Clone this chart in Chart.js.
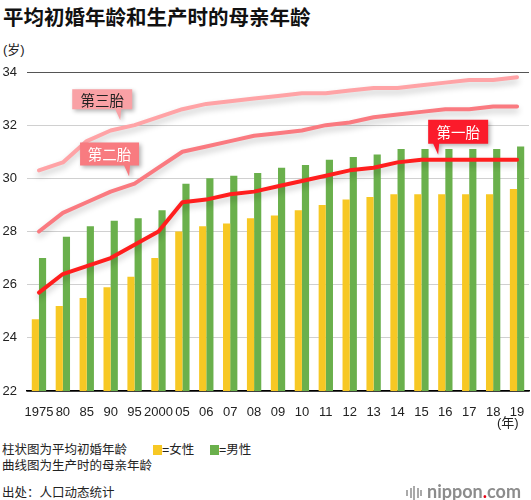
<!DOCTYPE html>
<html>
<head>
<meta charset="utf-8">
<script src="https://cdn.jsdelivr.net/npm/chart.js@4/dist/chart.umd.min.js"></script>
<style>
body{margin:0;width:531px;height:500px;background:#fff;position:relative;overflow:hidden;
  font-family:"Liberation Sans","Noto Sans CJK SC",sans-serif;color:#222;}
.abs{position:absolute;white-space:nowrap;}
#title{left:3px;top:1px;font:bold 20.5px "Noto Sans CJK SC",sans-serif;color:#111;}
#wrap{position:absolute;left:0;top:0;width:531px;height:420px;}
.sq{display:inline-block;width:9px;height:10px;vertical-align:-1px;}
#logo{right:10px;top:480px;font:bold 18px Lato,sans-serif;color:#8c8c8c;}
#logo i{display:inline-block;width:2px;background:#aaa;margin-right:1.5px;vertical-align:middle;}
</style>
</head>
<body>
<div id="title" class="abs">平均初婚年龄和生产时的母亲年龄</div>
<div class="abs" style="left:3px;top:39px;font-size:13px;">(岁)</div>
<div id="wrap"><canvas id="ageChart"></canvas></div>
<div class="abs" style="left:497px;top:412px;font-size:13px;">(年)</div>
<div class="abs" style="left:2px;top:439px;font-size:12.5px;">柱状图为平均初婚年龄</div>
<div class="abs" style="left:153px;top:439px;font-size:12.5px;"><span class="sq" style="background:#f7c824"></span>=女性</div>
<div class="abs" style="left:210px;top:439px;font-size:12.5px;"><span class="sq" style="background:#6ab04c"></span>=男性</div>
<div class="abs" style="left:2px;top:455px;font-size:12.5px;">曲线图为生产时的母亲年龄</div>
<div class="abs" style="left:2px;top:482px;font-size:12.5px;">出处：人口动态统计</div>
<div id="logo" class="abs"><i style="height:6px"></i><i style="height:10px"></i><i style="height:14px"></i><i style="height:10px"></i><i style="height:6px;margin-right:5px"></i>nippon<span style="color:#e60012">.</span>com</div>
<script>
const years = ["1975","80","85","90","95","2000","05","06","07","08","09","10","11","12","13","14","15","16","17","18","19"];
const femaleMarriage = [24.7,25.2,25.5,25.9,26.3,27.0,28.0,28.2,28.3,28.5,28.6,28.8,29.0,29.2,29.3,29.4,29.4,29.4,29.4,29.4,29.6];
const maleMarriage = [27.0,27.8,28.2,28.4,28.5,28.8,29.8,30.0,30.1,30.2,30.4,30.5,30.7,30.8,30.9,31.1,31.1,31.1,31.1,31.1,31.2];
const firstChild = [25.7,26.4,26.7,27.0,27.5,28.0,29.1,29.2,29.4,29.5,29.7,29.9,30.1,30.3,30.4,30.6,30.7,30.7,30.7,30.7,30.7];
const secondChild = [28.0,28.7,29.1,29.5,29.8,30.4,31.0,31.2,31.4,31.6,31.7,31.8,32.0,32.1,32.3,32.4,32.5,32.6,32.6,32.7,32.7];
const thirdChild = [30.3,30.6,31.4,31.8,32.0,32.3,32.6,32.8,32.9,33.0,33.1,33.2,33.2,33.3,33.4,33.4,33.5,33.6,33.7,33.7,33.8];

// callout labels: anchored on a line at a (fractional) category index
const callouts = [
    {text:"第三胎", ds:4, at:3.4, lift:8, left:-48, w:60, h:20, fill:"#f9a1a5", color:"#222"},
    {text:"第二胎", ds:3, at:3.77, lift:9, left:-49, w:59, h:23, fill:"#f87b80", color:"#fff"},
    {text:"第一胎", ds:2, at:16.7, lift:5, left:-10, w:60, h:24, fill:"#fb1b2b", color:"#fff"}
];

const lineShadow = {
    id:"lineShadow",
    beforeDatasetDraw(chart,args){
        if(chart.data.datasets[args.index].type!=="line") return;
        const c = chart.ctx;
        c.save();
        c.shadowColor = "rgba(0,0,0,0.22)";
        c.shadowBlur = 6;
        c.shadowOffsetY = 4;
    },
    afterDatasetDraw(chart,args){
        if(chart.data.datasets[args.index].type!=="line") return;
        chart.ctx.restore();
    }
};

const calloutPlugin = {
    id:"callouts",
    afterDatasetsDraw(chart){
        const c = chart.ctx, xs = chart.scales.x, ys = chart.scales.y;
        callouts.forEach(o=>{
            const vals = chart.data.datasets[o.ds].data;
            const i = Math.floor(o.at), f = o.at - i;
            const x0 = xs.getPixelForValue(i), x1 = xs.getPixelForValue(i+1);
            const v = vals[i] + f*(vals[i+1]-vals[i]);
            const tx = x0 + f*(x1-x0);
            const ty = ys.getPixelForValue(v) - o.lift;
            const bx = tx + o.left, by = ty - 11 - o.h;
            c.save();
            c.shadowColor = "rgba(0,0,0,0.3)";
            c.shadowBlur = 4;
            c.shadowOffsetX = 2;
            c.shadowOffsetY = 2;
            c.fillStyle = o.fill;
            c.beginPath();
            c.moveTo(bx,by);
            c.lineTo(bx+o.w,by);
            c.lineTo(bx+o.w,by+o.h);
            c.lineTo(tx+1,by+o.h);
            c.lineTo(tx,ty);
            c.lineTo(tx-5,by+o.h);
            c.lineTo(bx,by+o.h);
            c.closePath();
            c.fill();
            c.restore();
            c.fillStyle = o.color;
            c.font = '14.5px "Noto Sans CJK SC", sans-serif';
            c.textAlign = "center";
            c.textBaseline = "middle";
            c.fillText(o.text, bx+o.w/2, by+o.h/2+1);
        });
    }
};

function lineSet(label,data,color,order){
    return {type:"line",label:label,data:data,borderColor:color,backgroundColor:color,
        borderWidth:4,pointRadius:0,tension:0,borderCapStyle:"round",borderJoinStyle:"round",order:order};
}

new Chart(document.getElementById("ageChart"),{
    type:"bar",
    data:{
        labels:years,
        datasets:[
            {label:"女性",data:femaleMarriage,backgroundColor:"#f7c824",order:10,categoryPercentage:0.6,barPercentage:1},
            {label:"男性",data:maleMarriage,backgroundColor:"#6ab04c",order:10,categoryPercentage:0.6,barPercentage:1},
            lineSet("第一胎",firstChild,"#ff1e1e",1),
            lineSet("第二胎",secondChild,"#fa7a80",2),
            lineSet("第三胎",thirdChild,"#ffa3a6",3)
        ]
    },
    options:{
        responsive:true,
        maintainAspectRatio:false,
        animation:false,
        layout:{padding:{top:72,right:2,left:0,bottom:0}},
        plugins:{legend:{display:false},tooltip:{enabled:false}},
        scales:{
            x:{
                grid:{display:false},
                border:{color:"#000",width:1.5},
                ticks:{autoSkip:false,maxRotation:0,padding:6,color:"#222",
                    font:{family:"Liberation Sans",size:13}},
                afterFit(s){s.height=29;}
            },
            y:{
                min:22,max:34,
                border:{display:false},
                grid:{drawTicks:false,
                    color:ctx=>ctx.tick.value===34?"#555":(ctx.tick.value===22?"#000":"#d0d0d0"),
                    lineWidth:ctx=>ctx.tick.value===22?1.5:1},
                ticks:{stepSize:2,padding:10,color:"#222",font:{family:"Liberation Sans",size:13}},
                afterFit(s){s.width=27;}
            }
        }
    },
    plugins:[lineShadow,calloutPlugin]
});
</script>
</body>
</html>
